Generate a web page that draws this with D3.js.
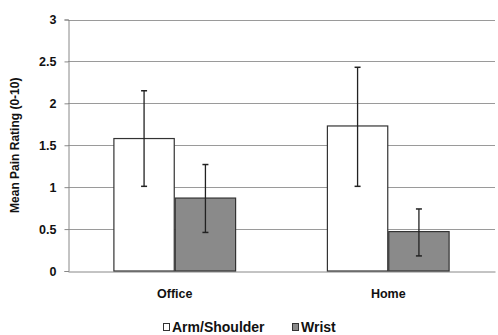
<!DOCTYPE html>
<html><head><meta charset="utf-8">
<script src="https://cdn.jsdelivr.net/npm/d3@7"></script>
<style>body{margin:0;background:#fff}svg{display:block}text{font-family:Arial,"Liberation Sans",sans-serif;font-weight:bold;fill:#111}</style>
</head><body><svg id="c" width="498" height="335"></svg>
<script>
const categories = ["Office", "Home"];
const seriesNames = ["Arm/Shoulder", "Wrist"];
const armValues = [1.58, 1.73];
const armLow = [1.01, 1.01];
const armHigh = [2.15, 2.43];
const wristValues = [0.87, 0.47];
const wristLow = [0.46, 0.18];
const wristHigh = [1.27, 0.74];
const yTicks = [0, 0.5, 1, 1.5, 2, 2.5, 3];
const yTickLabels = ["0", "0.5", "1", "1.5", "2", "2.5", "3"];
const yTitle = "Mean Pain Rating (0-10)";

const svg = d3.select("#c");
const m = {l: 68, r: 3, t: 19.5, b: 64};
const W = 498, H = 335;
const x = d3.scaleBand().domain(categories).range([m.l, W - m.r]);
const y = d3.scaleLinear().domain([0, 3]).range([H - m.b, m.t]);
const xs = d3.scaleBand().domain(seriesNames).range([0, x.bandwidth()]).paddingInner(0).paddingOuter(0.74);

const series = [
  {name: "Arm/Shoulder", vals: armValues, lo: armLow, hi: armHigh, fill: "#ffffff"},
  {name: "Wrist", vals: wristValues, lo: wristLow, hi: wristHigh, fill: "#8a8a8a"}
];

// gridlines
svg.append("g").selectAll("line").data(yTicks.slice(1)).join("line")
  .attr("x1", m.l).attr("x2", W - m.r)
  .attr("y1", d => Math.round(y(d)) + 0.5).attr("y2", d => Math.round(y(d)) + 0.5)
  .attr("stroke", "#9a9a9a").attr("stroke-width", 1.2);

// y axis
const ya = d3.axisLeft(y).tickValues(yTicks).tickFormat((d, i) => yTickLabels[i]).tickSize(4).tickPadding(8);
const yg = svg.append("g").attr("transform", `translate(${m.l + 0.5},0)`).call(ya);
yg.select(".domain").attr("stroke", "#888");
yg.selectAll(".tick line").attr("stroke", "#888");
yg.selectAll("text").style("font-size", "12.5px").attr("fill", "#111");

// x axis
const xa = d3.axisBottom(x).tickSize(0).tickPadding(18);
const xg = svg.append("g").attr("transform", `translate(0,${Math.round(y(0)) + 0.5})`).call(xa);
xg.select(".domain").attr("stroke", "#888");
xg.selectAll("text").style("font-size", "12.5px").attr("fill", "#111");

// bars
series.forEach(s => {
  const g = svg.append("g");
  g.selectAll("rect").data(categories).join("rect")
    .attr("x", c => x(c) + xs(s.name) + 0.5)
    .attr("y", (c, i) => y(s.vals[i]))
    .attr("width", xs.bandwidth() - 1)
    .attr("height", (c, i) => y(0) - y(s.vals[i]))
    .attr("fill", s.fill).attr("stroke", "#333").attr("stroke-width", 1.2);
});
// error bars
series.forEach(s => {
  const g = svg.append("g");
  categories.forEach((c, i) => {
    const cx = x(c) + xs(s.name) + xs.bandwidth() / 2;
    g.append("line").attr("x1", cx).attr("x2", cx).attr("y1", y(s.lo[i])).attr("y2", y(s.hi[i]))
      .attr("stroke", "#222").attr("stroke-width", 1.3);
    [s.lo[i], s.hi[i]].forEach(v => g.append("line").attr("x1", cx - 3).attr("x2", cx + 3)
      .attr("y1", y(v)).attr("y2", y(v)).attr("stroke", "#222").attr("stroke-width", 1.5));
  });
});

// y title
svg.append("text").attr("transform", `translate(19,${(m.t + H - m.b) / 2}) rotate(-90)`)
  .attr("text-anchor", "middle").style("font-size", "12px").text(yTitle);

// legend
const lg = svg.append("g").attr("transform", "translate(0,332)");
const items = [{name: seriesNames[0], fill: "#fff", x: 163}, {name: seriesNames[1], fill: "#8a8a8a", x: 292}];
items.forEach(it => {
  lg.append("rect").attr("x", it.x + 0.5).attr("y", -8.5).attr("width", 6).attr("height", 7)
    .attr("fill", it.fill).attr("stroke", "#333").attr("stroke-width", 1);
  lg.append("text").attr("x", it.x + 9).attr("y", 0).style("font-size", "14px").text(it.name);
});
</script></body></html>
